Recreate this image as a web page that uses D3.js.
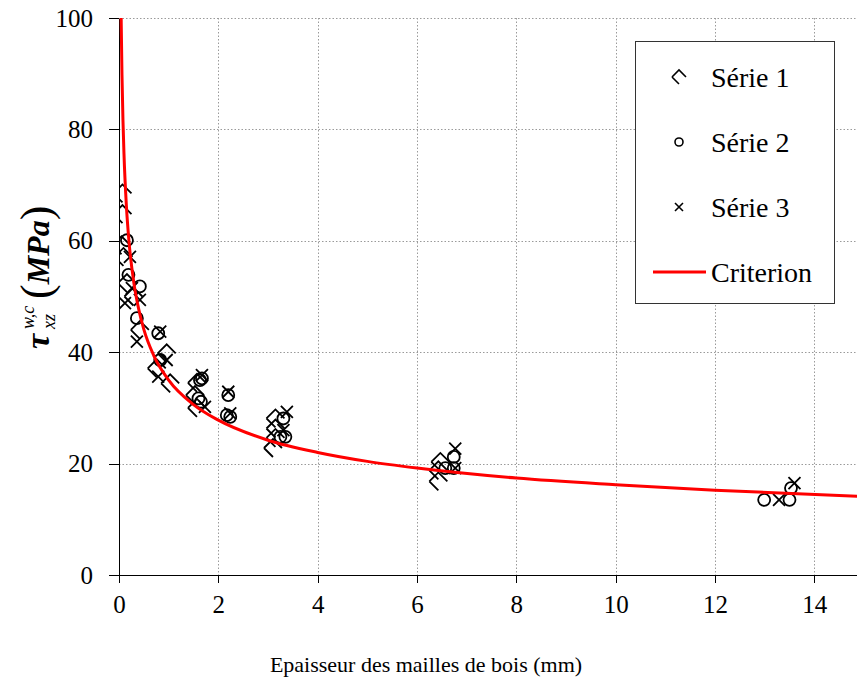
<!DOCTYPE html>
<html>
<head>
<meta charset="utf-8">
<script src="https://cdn.jsdelivr.net/npm/d3@7"></script>
<style>
  body { margin: 0; background: #fff; }
  svg { display: block; font-family: "Liberation Serif", "DejaVu Serif", serif; }
  .grid line { stroke: #9a9a9a; stroke-width: 1; stroke-dasharray: 1.5,2; }
  .axis path, .axis line { stroke: #000; shape-rendering: crispEdges; }
  .axis text { font-family: "Liberation Serif", serif; font-size: 25px; fill: #000; }
</style>
</head>
<body>
<div id="chart"></div>
<script>
// values (x = thickness in mm, y = MPa)
var serie1 = [[0.07,68.5],[0.07,64.8],[0.05,59.2],[0.09,57.1],[0.16,52.4],[0.29,50.0],[0.42,44.0],
  [0.96,39.8],[0.76,37.1],[1.03,34.4],[1.57,34.5],[1.53,32.3],[1.57,30.0],
  [3.15,28.1],[3.15,26.3],[3.15,24.6],[3.1,22.8],[6.47,20.3],[6.43,18.8],[6.43,16.8]];
var serie2 = [[0.16,60.1],[0.19,53.9],[0.42,51.8],[0.36,46.1],[0.79,43.4],[0.83,38.6],
  [1.63,35.0],[1.6,31.7],[1.67,35.3],[1.65,31.1],[2.2,32.3],[2.17,28.7],[2.24,28.4],
  [3.31,28.1],[3.25,24.8],[3.35,24.8],[6.74,21.2],[6.57,19.2],[6.74,19.2],
  [12.99,13.5],[13.53,15.6],[13.5,13.5]];
var serie3 = [[0.22,57.1],[0.26,51.5],[0.12,48.8],[0.42,49.4],[0.36,41.9],[0.83,43.7],
  [0.79,35.6],[0.96,38.6],[1.67,35.9],[1.73,30.2],[2.2,32.9],[2.24,29.0],[3.38,29.3],
  [3.31,26.0],[6.77,22.7],[6.77,19.2],[13.6,16.5],[13.29,13.5]];
var critX = [0.035,0.045,0.06,0.08,0.1,0.15,0.2,0.3,0.4,0.5,0.7,1,1.5,2,3,4,5,6,8,10,12,15];
var critY = [107.6,98.9,89.8,81.6,75.7,66.1,60.0,52.4,47.6,44.1,39.4,35.0,30.6,27.8,24.2,22.0,20.4,19.2,17.4,16.2,15.2,14.1];
var xTicks = [0,2,4,6,8,10,12,14];
var yTicks = [0,20,40,60,80,100];
var legendNames = ["Série 1","Série 2","Série 3","Criterion"];

var W = 857, H = 681;
var margin = {left: 119, top: 18, right: 864, bottom: 575};

var svg = d3.select("#chart").append("svg")
    .attr("width", W)
    .attr("height", H);

var x = d3.scaleLinear().domain([0,15]).range([margin.left, margin.right]);
var y = d3.scaleLinear().domain([0,100]).range([margin.bottom, margin.top]);

svg.append("clipPath").attr("id","plot")
  .append("rect").attr("x", margin.left).attr("y", margin.top)
  .attr("width", W - margin.left).attr("height", margin.bottom - margin.top);

//grid
var grid = svg.append("g").attr("class","grid");
grid.selectAll("line.v").data(xTicks.slice(1)).enter().append("line")
    .attr("x1", function(d){ return Math.round(x(d)) + 0.5; })
    .attr("x2", function(d){ return Math.round(x(d)) + 0.5; })
    .attr("y1", margin.top).attr("y2", margin.bottom);
grid.selectAll("line.h").data(yTicks.slice(1)).enter().append("line")
    .attr("y1", function(d){ return Math.round(y(d)) + 0.5; })
    .attr("y2", function(d){ return Math.round(y(d)) + 0.5; })
    .attr("x1", margin.left).attr("x2", W);

//axes
var xAxis = d3.axisBottom(x).tickValues(xTicks).tickSize(8).tickPadding(12).tickSizeOuter(0);
svg.append("g").attr("class","axis")
    .attr("transform","translate(0,"+margin.bottom+")")
    .call(xAxis);
var yAxis = d3.axisLeft(y).tickValues(yTicks).tickSize(10).tickPadding(16).tickSizeOuter(0);
svg.append("g").attr("class","axis")
    .attr("transform","translate("+margin.left+",0)")
    .call(yAxis);

//markers
function diamondPath(s) {
  return "M" + (-s) + ",0L0," + (-s) + "L" + s + ",0M" + (-s) + ",0L0," + s;
}
function crossPath(s) {
  return "M" + (-s) + "," + (-s) + "L" + s + "," + s + "M" + (-s) + "," + s + "L" + s + "," + (-s);
}
var pts = svg.append("g").attr("clip-path","url(#plot)")
    .attr("fill","none").attr("stroke","#000").attr("stroke-width",1.8);

pts.selectAll("path.s1").data(serie1).enter().append("path")
    .attr("d", diamondPath(9))
    .attr("transform", function(d){ return "translate("+x(d[0])+","+y(d[1])+")"; });
pts.selectAll("circle.s2").data(serie2).enter().append("circle")
    .attr("r", 6)
    .attr("cx", function(d){ return x(d[0]); })
    .attr("cy", function(d){ return y(d[1]); });
pts.selectAll("path.s3").data(serie3).enter().append("path")
    .attr("d", crossPath(6))
    .attr("transform", function(d){ return "translate("+x(d[0])+","+y(d[1])+")"; });

//criterion curve
var line = d3.line()
    .x(function(d){ return x(d); })
    .y(function(d,i){ return y(critY[i]); })
    .curve(d3.curveMonotoneX);
svg.append("path")
    .attr("clip-path","url(#plot)")
    .attr("d", line(critX))
    .attr("fill","none").attr("stroke","#ff0000").attr("stroke-width",3);

//legend
var lg = svg.append("g");
lg.append("rect").attr("x",635.5).attr("y",41.5).attr("width",199).attr("height",262)
    .attr("fill","#fff").attr("stroke","#333").attr("stroke-width",1);
var rowY = [77,142,207,272];
lg.append("path").attr("d", diamondPath(7)).attr("transform","translate(679,"+rowY[0]+")")
    .attr("fill","none").attr("stroke","#000").attr("stroke-width",1.6);
lg.append("circle").attr("cx",679).attr("cy",rowY[1]).attr("r",4)
    .attr("fill","none").attr("stroke","#000").attr("stroke-width",1.6);
lg.append("path").attr("d", crossPath(4)).attr("transform","translate(679,"+rowY[2]+")")
    .attr("fill","none").attr("stroke","#000").attr("stroke-width",1.6);
lg.append("line").attr("x1",653).attr("x2",706).attr("y1",rowY[3]).attr("y2",rowY[3])
    .attr("stroke","#ff0000").attr("stroke-width",3);
lg.selectAll("text").data(legendNames).enter().append("text")
    .attr("x",711).attr("y", function(d,i){ return rowY[i] + 10; })
    .style("font-size","28px")
    .text(function(d){ return d; });

//axis titles
svg.append("text")
    .attr("x", 426).attr("y", 672)
    .attr("text-anchor","middle")
    .style("font-size","22px")
    .text("Epaisseur des mailles de bois (mm)");

var yl = svg.append("g").attr("transform","translate(49,349) rotate(-90)");
yl.append("text").attr("x",0).attr("y",0)
    .style("font-size","34px").style("font-weight","bold").style("font-style","italic")
    .text("τ");
yl.append("text").attr("x",20).attr("y",-15)
    .style("font-size","18px").style("font-style","italic")
    .text("w,c");
yl.append("text").attr("x",20).attr("y",6)
    .style("font-size","18px").style("font-style","italic")
    .text("xz");
var mpa = yl.append("text").attr("x",50).attr("y",2);
mpa.append("tspan").style("font-size","44px").attr("dy",0).text("(");
mpa.append("tspan").style("font-size","32px").style("font-weight","bold").style("font-style","italic")
    .attr("dy",-2).text("MPa");
mpa.append("tspan").style("font-size","44px").attr("dy",2).text(")");
</script>
</body>
</html>
